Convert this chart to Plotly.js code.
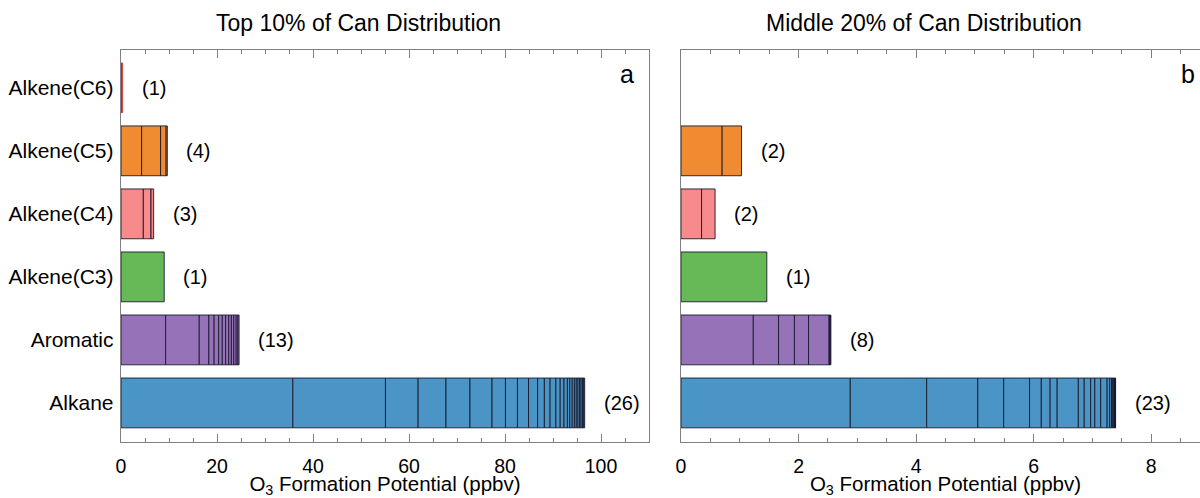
<!DOCTYPE html>
<html>
<head>
<meta charset="utf-8">
<script src="https://cdn.plot.ly/plotly-3.0.1.min.js"></script>
<style>
html, body { margin: 0; padding: 0; overflow: hidden; background: #fff; }
#chart { width: 1210px; height: 498px; }
</style>
</head>
<body>
<div id="chart"></div>
<script>
// ---- data ----
const categories = ['Alkane', 'Aromatic', 'Alkene(C3)', 'Alkene(C4)', 'Alkene(C5)', 'Alkene(C6)'];

// Panel a: Top 10% of can distribution (individual compound contributions, ppbv)
const topAlkane = [35.8, 19.3, 6.8, 5.8, 5.0, 4.6, 2.8, 2.5, 2.3, 1.9, 1.4, 1.2, 1.2, 0.9, 0.8, 0.7, 0.5, 0.5, 0.45, 0.4, 0.35, 0.35, 0.3, 0.3, 0.25, 0.2];
const topAromatic = [9.3, 7.0, 2.0, 1.1, 0.95, 0.75, 0.7, 0.65, 0.55, 0.5, 0.5, 0.35, 0.25];
const topC3 = [9.0];
const topC4 = [4.65, 1.6, 0.55];
const topC5 = [4.3, 3.95, 1.15, 0.25];
const topC6 = [0.35];

// Panel b: Middle 20% of can distribution
const midAlkane = [2.88, 1.30, 0.87, 0.44, 0.44, 0.20, 0.15, 0.12, 0.36, 0.10, 0.11, 0.07, 0.10, 0.11, 0.044, 0.03, 0.02, 0.02, 0.01, 0.01, 0.005, 0.003, 0.002];
const midAromatic = [1.23, 0.43, 0.27, 0.24, 0.35, 0.01, 0.01, 0.01];
const midC3 = [1.46];
const midC4 = [0.35, 0.23];
const midC5 = [0.70, 0.33];
const midC6 = [];

const panelTitles = ['Top 10% of Can Distribution', 'Middle 20% of Can Distribution'];
const panelLetters = ['a', 'b'];
const xTitle = 'O<sub>3</sub> Formation Potential (ppbv)';

// ---- styles ----
const catColors = {
  'Alkane': '#4b94c6',
  'Aromatic': '#9673b9',
  'Alkene(C3)': '#67b957',
  'Alkene(C4)': '#f78b8b',
  'Alkene(C5)': '#f08b32',
  'Alkene(C6)': '#d62728'
};
const catLines = {
  'Alkene(C6)': {color: '#c01818', width: 0.5}
};
const FONT = 'Liberation Sans, Arial, Helvetica, sans-serif';
const AXC = '#808080';

const panels = [
  {xa: 'x', ya: 'y', data: [topAlkane, topAromatic, topC3, topC4, topC5, topC6]},
  {xa: 'x2', ya: 'y2', data: [midAlkane, midAromatic, midC3, midC4, midC5, midC6]}
];

const traces = [];
const annotations = [];

panels.forEach(function (p, pi) {
  p.data.forEach(function (vals, ci) {
    if (!vals.length) return;
    const cat = categories[ci];
    const bases = [];
    let s = 0;
    vals.forEach(function (v) { bases.push(s); s += v; });
    traces.push({
      type: 'bar',
      orientation: 'h',
      x: vals,
      base: bases,
      y: vals.map(function () { return cat; }),
      xaxis: p.xa,
      yaxis: p.ya,
      width: 0.79,
      marker: {color: catColors[cat], line: catLines[cat] || {color: 'rgba(25,25,45,0.9)', width: 1}},
      hoverinfo: 'x+y',
      showlegend: false
    });
    annotations.push({
      xref: p.xa, yref: p.ya, x: s, y: cat,
      text: '(' + vals.length + ')',
      showarrow: false, xanchor: 'left', xshift: 17,
      font: {family: FONT, size: 20, color: '#000'}
    });
  });
  annotations.push({
    xref: p.xa + ' domain', yref: p.ya + ' domain', x: 1, y: 1,
    text: panelLetters[pi], showarrow: false,
    xanchor: 'right', yanchor: 'top', xshift: -13, yshift: -8,
    font: {family: FONT, size: 25, color: '#000'}
  });
});

// panel titles
annotations.push({xref: 'paper', yref: 'paper', x: 0.2185, y: 1, xanchor: 'center', yanchor: 'bottom', yshift: 12,
  text: panelTitles[0], showarrow: false, font: {family: FONT, size: 23, color: '#000'}});
annotations.push({xref: 'paper', yref: 'paper', x: 0.7374, y: 1, xanchor: 'center', yanchor: 'bottom', yshift: 12,
  text: panelTitles[1], showarrow: false, font: {family: FONT, size: 23, color: '#000'}});

function xAxis(domain, range, dtick, minorDtick) {
  return {
    domain: domain, range: range, dtick: dtick, tick0: 0,
    ticks: 'inside', ticklen: 8, tickwidth: 1, tickcolor: AXC,
    minor: {dtick: minorDtick, tick0: 0, ticks: 'inside', ticklen: 4, tickwidth: 1, tickcolor: AXC, showgrid: false},
    showline: true, linecolor: AXC, linewidth: 1.3, mirror: 'allticks',
    showgrid: false, zeroline: false,
    ticklabelstandoff: 6,
    tickfont: {family: FONT, size: 19.5, color: '#000'},
    title: {text: xTitle, font: {family: FONT, size: 20.5, color: '#000'}, standoff: 5}
  };
}
function yAxis(anchor, showLabels) {
  return {
    anchor: anchor, type: 'category', categoryorder: 'array', categoryarray: categories,
    range: [-0.62, 5.60], ticks: '', showticklabels: showLabels,
    showline: true, linecolor: AXC, linewidth: 1.3, mirror: true,
    showgrid: false, zeroline: false, ticklabelstandoff: 2,
    tickfont: {family: FONT, size: 21, color: '#000'}
  };
}

const layout = {
  width: 1210, height: 498,
  margin: {l: 121, r: 0, t: 50, b: 56},
  paper_bgcolor: '#fff', plot_bgcolor: '#fff',
  barmode: 'overlay',
  font: {family: FONT, color: '#000'},
  xaxis: xAxis([0, 0.48485], [0, 110], 20, 5),
  xaxis2: Object.assign(xAxis([0.51423, 1], [0, 9], 2, 0.5), {anchor: 'y2'}),
  yaxis: yAxis('x', true),
  yaxis2: yAxis('x2', false),
  annotations: annotations
};
layout.xaxis.anchor = 'y';

Plotly.newPlot('chart', traces, layout, {displayModeBar: false, staticPlot: true});
</script>
</body>
</html>
